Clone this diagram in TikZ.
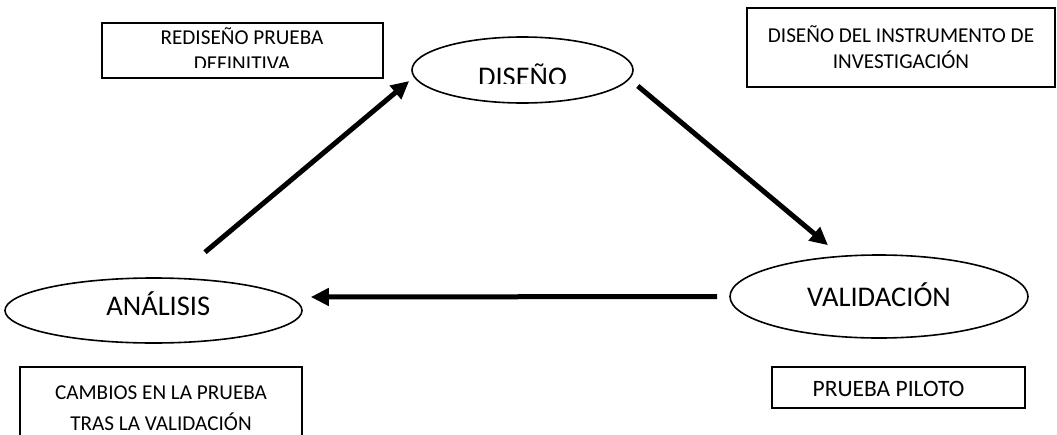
\documentclass[tikz,border=0pt]{standalone}
\usepackage{fontspec}
\setmainfont{Carlito}
\usepackage{tikz}
\usetikzlibrary{shapes.geometric, arrows.meta}
\definecolor{CycleBlack}{HTML}{000000}
\definecolor{CycleWhite}{HTML}{FFFFFF}
\tikzset{
    stage/.style={
        ellipse,
        draw=CycleBlack,
        line width=1.6pt,
        fill=CycleWhite,
        inner sep=0pt
    },
    stagetext/.style={
        text=CycleBlack,
        font={\fontsize{28.5}{34}\selectfont},
        inner sep=0pt
    },
    notebox/.style={
        draw=CycleBlack,
        line width=1.6pt,
        fill=CycleWhite,
        inner sep=0pt
    },
    notetext/.style={
        text=CycleBlack,
        font={\fontsize{21.2}{#1}\selectfont},
        align=center,
        inner sep=0pt
    },
    notetext/.default=25.5,
    flow/.style={
        -{Triangle[length=18pt, width=17pt]},
        line width=5pt,
        CycleBlack
    }
}

\begin{document}
\begin{tikzpicture}[x=1pt, y=-1pt]
        \clip (0,0) rectangle (1057,434);
        \fill[CycleWhite] (0,0) rectangle (1057,434);

        % Stages of the cycle
        \node[stage, minimum width=221pt, minimum height=66pt] (diseno) at (522.5,70) {};
        \node[stage, minimum width=297pt, minimum height=65pt] (analisis) at (153.5,310.5) {};
        \node[stage, minimum width=298pt, minimum height=83pt] (validacion) at (879,296.5) {};

        \begin{scope}
            \clip (diseno.west |- 0,40) rectangle (diseno.east |- 0,83.3);
            \node[stagetext, anchor=base] (disenotext) at (522.5,86.7) {DISEÑO};
        \end{scope}
        \node[stagetext, anchor=base] (analisistext) at (158.3,315) {ANÁLISIS};
        \node[stagetext, anchor=base] (validaciontext) at (879,306.7) {VALIDACIÓN};

        % Notes
        \node[notebox, minimum width=281pt, minimum height=55pt] (redisenobox) at (242.5,50.5) {};
        \begin{scope}
            \clip (redisenobox.north west) rectangle ([yshift=11.3pt]redisenobox.south east);
            \node[notetext=26] (redisenotext) at (242,49) {REDISEÑO PRUEBA\\DEFINITIVA};
        \end{scope}
        \node[notebox, minimum width=308pt, minimum height=79pt] (instrumentobox) at (901,47.5) {};
        \node[notetext] (instrumentotext) at (901,47.3) {DISEÑO DEL INSTRUMENTO DE\\INVESTIGACIÓN};
        \node[notebox, minimum width=282pt, minimum height=85pt] (cambiosbox) at (161,409.5) {};
        \node[notetext=31] (cambiostext) at (161,408.5) {CAMBIOS EN LA PRUEBA\\TRAS LA VALIDACIÓN};
        \node[notebox, minimum width=253pt, minimum height=41pt] (pilotobox) at (898.5,387.5) {};
        \node[notetext, font={\fontsize{23.5}{28}\selectfont}, anchor=base] (pilototext) at (888.5,396.7) {PRUEBA PILOTO};

        % Flow between stages
        \draw[flow] ([shift={(51.5,-25)}]analisis.north) -- ([shift={(-2,11)}]diseno.west);
        \draw[flow] ([shift={(4,16)}]diseno.east) -- ([shift={(-51,-9)}]validacion.north);
        \draw[flow] ([xshift=-12pt]validacion.west) -- ([shift={(8,-13.5)}]analisis.east);
    \end{tikzpicture}
\end{document}
